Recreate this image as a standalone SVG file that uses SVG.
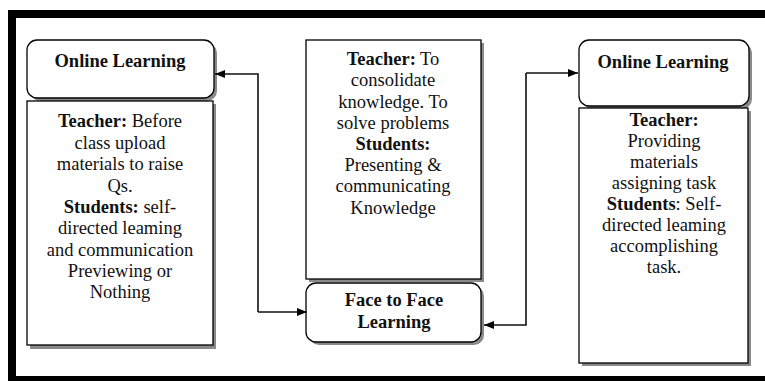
<svg xmlns="http://www.w3.org/2000/svg" width="765" height="381" viewBox="0 0 765 381">
<style>
.box{fill:#fff;stroke:#000;stroke-width:1.3}
.sh{fill:#8a8a8a}
.t{font-family:"Liberation Serif","Times New Roman",serif;font-size:18.5px;fill:#111;text-anchor:middle}
.b{font-weight:bold}
.con{fill:none;stroke:#111;stroke-width:1.6}
</style>
<defs>
<marker id="ah" viewBox="0 0 10 8" refX="10" refY="4" markerWidth="10" markerHeight="8" markerUnits="userSpaceOnUse" orient="auto">
<path d="M0,0 L10,4 L0,8 Z" fill="#000"/>
</marker>
</defs>
<rect width="765" height="381" fill="#fff"/>
<g id="frame">
<rect x="8" y="10" width="757" height="8" fill="#000"/>
<rect x="8" y="10" width="8" height="371" fill="#000"/>
<rect x="8" y="376" width="757" height="5" fill="#000"/>
</g>
<g id="online-left-title">
<rect class="sh" x="30" y="43" width="187" height="58" rx="10"/>
<rect class="box" x="27" y="40" width="187" height="58" rx="10"/>
<text class="t b" x="120" y="67">Online Learning</text>
</g>
<g id="online-left-body">
<rect class="sh" x="30" y="104" width="186" height="245"/>
<rect class="box" x="27" y="101" width="186" height="244"/>
<text class="t" x="120" y="127"><tspan class="b">Teacher:</tspan> Before</text>
<text class="t" x="120" y="149">class upload</text>
<text class="t" x="120" y="170">materials to raise</text>
<text class="t" x="120" y="192">Qs.</text>
<text class="t" x="120" y="213"><tspan class="b">Students:</tspan> self-</text>
<text class="t" x="120" y="234">directed leaming</text>
<text class="t" x="120" y="256">and communication</text>
<text class="t" x="120" y="277">Previewing or</text>
<text class="t" x="120" y="298">Nothing</text>
</g>
<g id="center-body">
<rect class="sh" x="309" y="43" width="175" height="239"/>
<rect class="box" x="306" y="40" width="175" height="239"/>
<text class="t" x="393" y="65"><tspan class="b">Teacher:</tspan> To</text>
<text class="t" x="393" y="86">consolidate</text>
<text class="t" x="393" y="108">knowledge. To</text>
<text class="t" x="393" y="129">solve problems</text>
<text class="t b" x="393" y="150">Students:</text>
<text class="t" x="393" y="171">Presenting &amp;</text>
<text class="t" x="393" y="192">communicating</text>
<text class="t" x="393" y="214">Knowledge</text>
</g>
<g id="face-to-face">
<rect class="sh" x="309" y="286" width="175" height="59" rx="10"/>
<rect class="box" x="306" y="283" width="175" height="59" rx="10"/>
<text class="t b" x="394" y="306">Face to Face</text>
<text class="t b" x="394" y="328">Learning</text>
</g>
<g id="online-right-title">
<rect class="sh" x="582" y="43" width="170" height="66" rx="10"/>
<rect class="box" x="579" y="40" width="170" height="66" rx="10"/>
<text class="t b" x="663" y="68">Online Learning</text>
</g>
<g id="online-right-body">
<rect class="sh" x="582" y="111" width="169" height="255"/>
<rect class="box" x="579" y="108" width="169" height="255"/>
<text class="t" x="664" y="126"><tspan class="b">Teacher:</tspan></text>
<text class="t" x="664" y="147">Providing</text>
<text class="t" x="664" y="168">materials</text>
<text class="t" x="664" y="189">assigning task</text>
<text class="t" x="664" y="210"><tspan class="b">Students</tspan>: Self-</text>
<text class="t" x="664" y="231">directed leaming</text>
<text class="t" x="664" y="252">accomplishing</text>
<text class="t" x="664" y="273">task.</text>
</g>
<g id="connectors">
<path class="con" d="M258,312 L258,74 L215,74" marker-end="url(#ah)"/>
<path class="con" d="M258,312 L307,312" marker-end="url(#ah)"/>
<path class="con" d="M526,73 L526,325 L484,325" marker-end="url(#ah)"/>
<path class="con" d="M526,73 L578,73" marker-end="url(#ah)"/>
</g>
</svg>
